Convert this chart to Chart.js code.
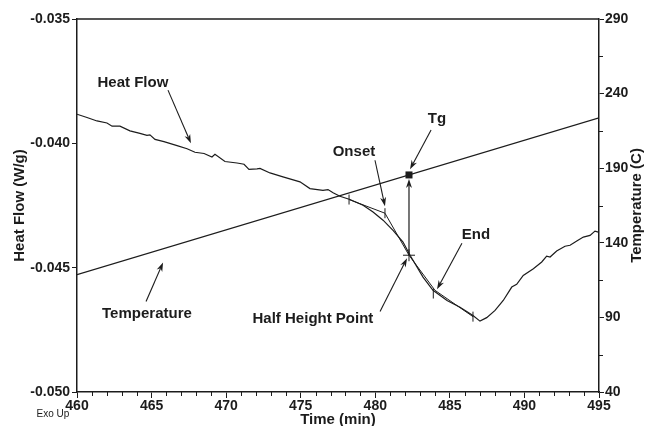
<!DOCTYPE html>
<html>
<head>
<meta charset="utf-8">
<script src="https://cdn.jsdelivr.net/npm/chart.js@4.4.1/dist/chart.umd.min.js"></script>
<style>
  html, body { margin: 0; padding: 0; background: #ffffff; }
  #wrap { width: 648px; height: 426px; }
</style>
</head>
<body>
<div id="wrap"><canvas id="dsc" width="648" height="426"></canvas></div>
<script>
// DSC glass transition run: heat flow (left axis) and programmed temperature (right axis)
const timeMin = [460.00, 460.67, 461.34, 462.01, 462.35, 462.88, 463.55, 464.22, 464.69, 464.89,
  465.23, 465.83, 466.71, 467.38, 467.91, 468.52, 469.05, 469.25, 469.92, 470.73,
  471.20, 471.53, 472.07, 472.27, 472.94, 473.81, 474.95, 475.62, 476.49, 476.83,
  477.17, 477.63, 478.30, 479.18, 479.85, 480.52, 481.19, 481.86, 482.33, 483.20,
  483.87, 484.81, 485.68, 486.55, 487.02, 487.47, 488.03, 488.58, 489.15, 489.48,
  489.92, 490.60, 491.16, 491.49, 491.72, 492.16, 492.72, 493.06, 493.51, 493.95,
  494.40, 494.73, 494.96];
const heatFlow = [-0.03883, -0.03896, -0.03910, -0.03918, -0.03931, -0.03931, -0.03950, -0.03960, -0.03968, -0.03966,
  -0.03984, -0.03993, -0.04009, -0.04022, -0.04036, -0.04041, -0.04055, -0.04044, -0.04073, -0.04079,
  -0.04084, -0.04105, -0.04103, -0.04101, -0.04119, -0.04135, -0.04155, -0.04182, -0.04189, -0.04186,
  -0.04199, -0.04213, -0.04226, -0.04249, -0.04276, -0.04309, -0.04350, -0.04397, -0.04450, -0.04538,
  -0.04591, -0.04632, -0.04659, -0.04692, -0.04715, -0.04701, -0.04672, -0.04632, -0.04578, -0.04567,
  -0.04531, -0.04504, -0.04477, -0.04454, -0.04457, -0.04433, -0.04414, -0.04410, -0.04393, -0.04377,
  -0.04370, -0.04353, -0.04357];

// Temperature ramp (about 3 C/min)
const tempTime = [460, 495];
const temperature = [118.7, 223.7];

// Glass transition construction (time, heat flow)
const onsetBaseline = [[478.24, -0.04226], [480.65, -0.04281]];
const inflectionTangent = [[480.65, -0.04281], [482.26, -0.04450], [484.00, -0.04591]];
const endBaseline = [[484.00, -0.04591], [486.55, -0.04697]];
const constructionTicks = [[478.24, -0.04226], [480.65, -0.04281], [483.89, -0.04604], [486.55, -0.04697]];
const halfHeight = [482.26, -0.04450];
const tgTime = 482.26;

// Axis ticks
const timeTicks = [460, 465, 470, 475, 480, 485, 490, 495];
const heatTicks = [-0.050, -0.045, -0.040, -0.035];
const tempTicks = [40, 90, 140, 190, 240, 290];

// Callout labels: text, label centre, arrow tail, arrow tip (time, heat flow)
const callouts = [
  { text: 'Heat Flow',         at: [463.75, -0.03758], from: [466.10, -0.03786], to: [467.64, -0.04000] },
  { text: 'Temperature',       at: [464.69, -0.04684], from: [464.63, -0.04636], to: [465.77, -0.04479] },
  { text: 'Onset',             at: [478.57, -0.04036], from: [479.98, -0.04068], to: [480.65, -0.04253] },
  { text: 'Tg',                at: [484.14, -0.03903], from: [483.74, -0.03946], to: [482.33, -0.04104] },
  { text: 'End',               at: [486.75, -0.04370], from: [485.81, -0.04402], to: [484.14, -0.04587] },
  { text: 'Half Height Point', at: [475.82, -0.04704], from: [480.32, -0.04676], to: [482.13, -0.04462] }
];

const INK = '#1c1c1c';
const FONT = '"Liberation Sans", Arial, sans-serif';
const tempAt = t => temperature[0] + (t - tempTime[0]) * (temperature[1] - temperature[0]) / (tempTime[1] - tempTime[0]);
const pts = arr => arr.map(p => ({ x: p[0], y: p[1] }));

function arrow(ctx, x1, y1, x2, y2) {
  const a = Math.atan2(y2 - y1, x2 - x1);
  const len = 9, hw = 3;
  ctx.beginPath();
  ctx.moveTo(x1, y1);
  ctx.lineTo(x2 - Math.cos(a) * len * 0.7, y2 - Math.sin(a) * len * 0.7);
  ctx.stroke();
  ctx.beginPath();
  ctx.moveTo(x2, y2);
  ctx.lineTo(x2 - Math.cos(a) * len - Math.sin(a) * hw, y2 - Math.sin(a) * len + Math.cos(a) * hw);
  ctx.lineTo(x2 - Math.cos(a) * len * 0.7, y2 - Math.sin(a) * len * 0.7);
  ctx.lineTo(x2 - Math.cos(a) * len + Math.sin(a) * hw, y2 - Math.sin(a) * len - Math.cos(a) * hw);
  ctx.closePath();
  ctx.fill();
}

const decorations = {
  id: 'decorations',
  afterDraw(chart) {
    const { ctx, chartArea: ca, scales } = chart;
    const X = scales.x, Y = scales.y, T = scales.y2;
    ctx.save();
    ctx.strokeStyle = INK;
    ctx.fillStyle = INK;

    // frame top edge
    ctx.lineWidth = 1.5;
    ctx.beginPath();
    ctx.moveTo(ca.left, ca.top);
    ctx.lineTo(ca.right, ca.top);
    ctx.stroke();

    // minor ticks: every minute on time axis, every 25 C on temperature axis
    ctx.lineWidth = 1;
    ctx.beginPath();
    for (let t = X.min; t <= X.max; t += 1) {
      if (t % 5 === 0) continue;
      const px = Math.round(X.getPixelForValue(t)) + 0.5;
      ctx.moveTo(px, ca.bottom);
      ctx.lineTo(px, ca.bottom + 4);
    }
    for (let v = T.min + 25; v < T.max; v += 50) {
      const py = Math.round(T.getPixelForValue(v)) + 0.5;
      ctx.moveTo(ca.right, py);
      ctx.lineTo(ca.right + 4, py);
    }
    ctx.stroke();

    // construction tick marks
    ctx.lineWidth = 1;
    ctx.beginPath();
    constructionTicks.forEach(p => {
      const px = X.getPixelForValue(p[0]), py = Y.getPixelForValue(p[1]);
      ctx.moveTo(px, py - 5);
      ctx.lineTo(px, py + 5);
    });
    // half height cross
    const hx = X.getPixelForValue(halfHeight[0]), hy = Y.getPixelForValue(halfHeight[1]);
    ctx.moveTo(hx - 6, hy);
    ctx.lineTo(hx + 6, hy);
    ctx.moveTo(hx, hy - 6);
    ctx.lineTo(hx, hy + 6);
    ctx.stroke();

    // Tg marker on the temperature line, with vertical arrow from half height point
    const gx = X.getPixelForValue(tgTime), gy = T.getPixelForValue(tempAt(tgTime));
    ctx.lineWidth = 1.2;
    arrow(ctx, hx, hy, gx, gy + 4);
    ctx.fillRect(gx - 3.5, gy - 3.5, 7, 7);

    // callouts
    ctx.font = 'bold 15px ' + FONT;
    ctx.textAlign = 'center';
    ctx.textBaseline = 'middle';
    ctx.lineWidth = 1.1;
    callouts.forEach(c => {
      ctx.fillText(c.text, X.getPixelForValue(c.at[0]), Y.getPixelForValue(c.at[1]));
      arrow(ctx, X.getPixelForValue(c.from[0]), Y.getPixelForValue(c.from[1]),
        X.getPixelForValue(c.to[0]), Y.getPixelForValue(c.to[1]));
    });

    // right axis title, reading upward
    ctx.save();
    ctx.translate(637, (ca.top + ca.bottom) / 2);
    ctx.rotate(-Math.PI / 2);
    ctx.font = 'bold 15px ' + FONT;
    ctx.fillText('Temperature (C)', 0, 0);
    ctx.restore();

    // exotherm direction note
    ctx.font = '10px ' + FONT;
    ctx.fillText('Exo Up', 53, 414);
    ctx.restore();
  }
};

const lineStyle = { borderColor: INK, borderWidth: 1.2, pointRadius: 0, fill: false, tension: 0 };

new Chart(document.getElementById('dsc'), {
  type: 'line',
  data: {
    datasets: [
      Object.assign({ label: 'Heat Flow', yAxisID: 'y', data: timeMin.map((t, i) => ({ x: t, y: heatFlow[i] })) }, lineStyle),
      Object.assign({ label: 'Temperature', yAxisID: 'y2', data: tempTime.map((t, i) => ({ x: t, y: temperature[i] })) }, lineStyle),
      Object.assign({ label: 'Onset baseline', yAxisID: 'y', data: pts(onsetBaseline) }, lineStyle, { borderWidth: 1 }),
      Object.assign({ label: 'Inflection tangent', yAxisID: 'y', data: pts(inflectionTangent) }, lineStyle, { borderWidth: 1 }),
      Object.assign({ label: 'End baseline', yAxisID: 'y', data: pts(endBaseline) }, lineStyle, { borderWidth: 1 })
    ]
  },
  options: {
    responsive: false,
    animation: false,
    devicePixelRatio: 1,
    layout: { padding: { top: 19, left: 0, right: 0, bottom: 0 } },
    plugins: { legend: { display: false }, tooltip: { enabled: false } },
    scales: {
      x: {
        type: 'linear', position: 'bottom', min: 460, max: 495,
        afterBuildTicks: s => { s.ticks = timeTicks.map(v => ({ value: v })); },
        afterFit: s => { s.height = 34; },
        ticks: { color: INK, font: { family: FONT, size: 14, weight: 'bold' }, padding: 0, maxRotation: 0, autoSkip: false },
        grid: { drawOnChartArea: false, tickLength: 6, color: INK, lineWidth: 1 },
        border: { color: INK, width: 1.5 },
        title: { display: true, text: 'Time (min)', color: INK, font: { family: FONT, size: 15, weight: 'bold' }, padding: { top: 0, bottom: -3 } }
      },
      y: {
        type: 'linear', position: 'left', min: -0.050, max: -0.035,
        afterBuildTicks: s => { s.ticks = heatTicks.map(v => ({ value: v })); },
        afterFit: s => { s.width = 77; },
        ticks: { color: INK, font: { family: FONT, size: 14, weight: 'bold' }, padding: 2, callback: v => v.toFixed(3) },
        grid: { drawOnChartArea: false, tickLength: 5, color: INK, lineWidth: 1 },
        border: { color: INK, width: 1.5 },
        title: { display: true, text: 'Heat Flow (W/g)', color: INK, font: { family: FONT, size: 15, weight: 'bold' }, padding: { top: 11, bottom: 0 } }
      },
      y2: {
        type: 'linear', position: 'right', min: 40, max: 290,
        afterBuildTicks: s => { s.ticks = tempTicks.map(v => ({ value: v })); },
        afterFit: s => { s.width = 49; },
        ticks: { color: INK, font: { family: FONT, size: 14, weight: 'bold' }, padding: 1 },
        grid: { drawOnChartArea: false, tickLength: 5, color: INK, lineWidth: 1 },
        border: { color: INK, width: 1.5 }
      }
    }
  },
  plugins: [decorations]
});
</script>
</body>
</html>
